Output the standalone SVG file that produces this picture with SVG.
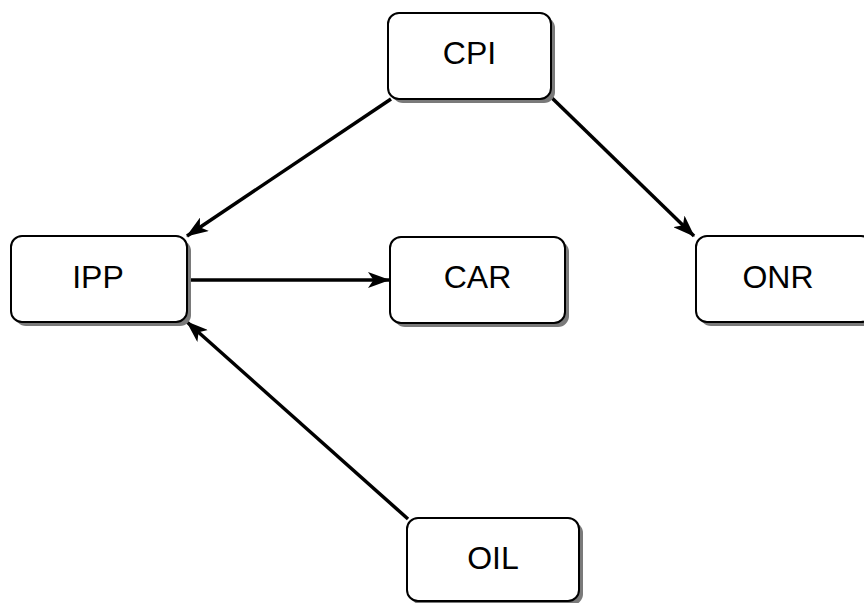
<svg xmlns="http://www.w3.org/2000/svg" width="864" height="603" viewBox="0 0 864 603">
<style>
.box{fill:#ffffff;stroke:#000000;stroke-width:2}
.shadow{fill:#7a7a7a}
.lbl{font-family:"Liberation Sans",Arial,sans-serif;font-size:32px;fill:#000000;text-anchor:middle}
.edge{stroke:#000000;stroke-width:3.5;fill:none;marker-end:url(#arr)}
</style>
<defs>
<marker id="arr" markerUnits="userSpaceOnUse" viewBox="0 0 22 16" markerWidth="22" markerHeight="16" refX="21" refY="8" orient="auto">
<path d="M0,0 L22,8 L0,16 L5.5,8 Z" fill="#000000"/>
</marker>
</defs>
<rect width="864" height="603" fill="#ffffff"/>
<g id="connectors">
<line class="edge" x1="391" y1="99" x2="187" y2="236"/>
<line class="edge" x1="552" y1="98" x2="694" y2="236"/>
<line class="edge" x1="188" y1="280" x2="389" y2="280"/>
<line class="edge" x1="408" y1="519" x2="187" y2="322"/>
</g>
<g id="CPI">
<rect class="shadow" x="392" y="17" width="163" height="86" rx="11"/>
<rect class="box" x="388" y="13" width="163" height="86" rx="11"/>
<text class="lbl" x="469.5" y="64">CPI</text>
</g>
<g id="IPP">
<rect class="shadow" x="15" y="240" width="176" height="86" rx="11"/>
<rect class="box" x="11" y="236" width="176" height="86" rx="11"/>
<text class="lbl" x="98" y="288">IPP</text>
</g>
<g id="CAR">
<rect class="shadow" x="394" y="241" width="175" height="86" rx="11"/>
<rect class="box" x="390" y="237" width="175" height="86" rx="11"/>
<text class="lbl" x="477.5" y="288">CAR</text>
</g>
<g id="ONR">
<rect class="shadow" x="700" y="240" width="176" height="86" rx="11"/>
<rect class="box" x="696" y="236" width="176" height="86" rx="11"/>
<text class="lbl" x="778" y="288">ONR</text>
</g>
<g id="OIL">
<rect class="shadow" x="411" y="522" width="172" height="83" rx="11"/>
<rect class="box" x="407" y="518" width="172" height="83" rx="11"/>
<text class="lbl" x="493" y="569">OIL</text>
</g>
</svg>
